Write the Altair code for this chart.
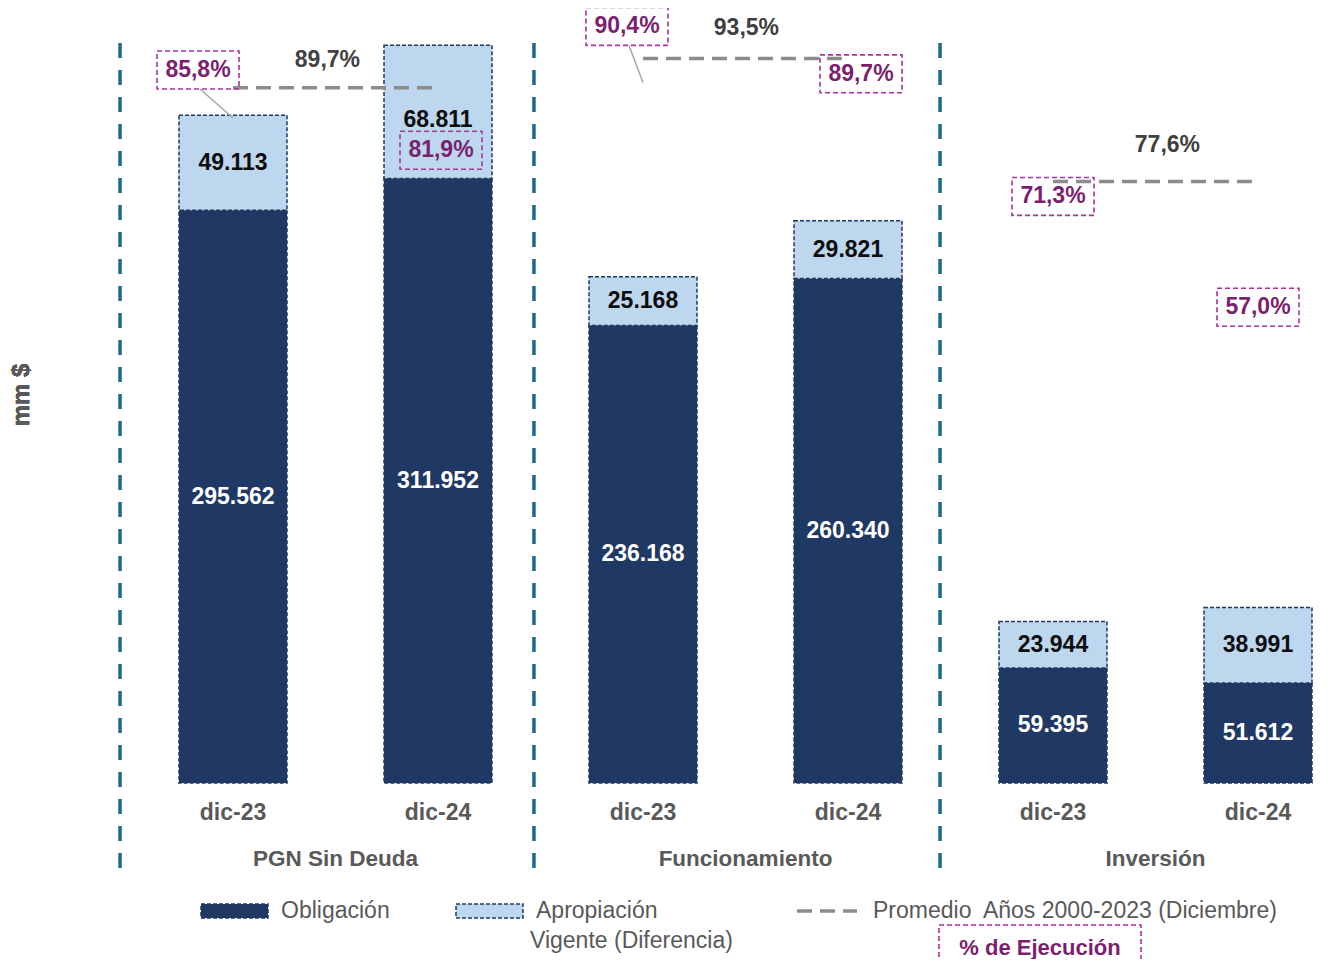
import altair as alt
import pandas as pd

# ---------------- data ----------------
groups = ["PGN Sin Deuda", "Funcionamiento", "Inversión"]
periods = ["dic-23", "dic-24"]
obligacion = [295562, 311952, 236168, 260340, 59395, 51612]
diferencia = [49113, 68811, 25168, 29821, 23944, 38991]
ejecucion = [85.8, 81.9, 90.4, 89.7, 71.3, 57.0]
promedio = [89.7, 93.5, 77.6]

# ---------------- layout (pixels) ----------------
PCT_LABEL_OFFSETS = [(-35, -48), (3, 2), (-16, -56), (13, -14), (0, -34), (0, -34)]
LEADER = [True, False, True, False, False, False]
DIF_LABEL_DY = [0, 8, 0, 0, 0, 0]
AVG_LABEL_OFFSETS = [(-5, -28), (4, -30), (15, -37)]
SEPARATORS = [-0.551, 1.468, 3.449]

W, H = 1322, 775
X_DOMAIN = [-225 / 205, (W - 225) / 205]
Y_MAX = 400000
PX_X = 205.0
PX_Y = H / Y_MAX
PCT_TO_Y = Y_MAX / 100.0

NAVY = "#203864"
LIGHT = "#BDD7EE"
MAGENTA_T = "#7B1F6F"
MAGENTA_B = "#A8349E"
GRAY_T = "#595959"
FONT = "Liberation Sans"


def fmt_num(v):
    return f"{v:,}".replace(",", ".")


def fmt_pct(p):
    return f"{p:.1f}".replace(".", ",") + "%"


rows = []
for i in range(6):
    g = groups[i // 2]
    p = periods[i % 2]
    o = obligacion[i]
    d = diferencia[i]
    e = ejecucion[i]
    dx, dy = PCT_LABEL_OFFSETS[i]
    lx = i + dx / PX_X
    ly = e * PCT_TO_Y - dy / PX_Y
    rows.append(dict(
        idx=i, grupo=g, periodo=p, obl=o, dif=d, total=o + d,
        obl_mid=o / 2, dif_mid=o + d / 2 - DIF_LABEL_DY[i] / PX_Y,
        obl_lab=fmt_num(o), dif_lab=fmt_num(d),
        pct=e, pct_y=e * PCT_TO_Y, pct_lab=fmt_pct(e),
        lx=lx, ly=ly, leader=LEADER[i],
        lead_x=lx + 2 / PX_X, lead_y=ly - 19 / PX_Y,
    ))
df = pd.DataFrame(rows)

avg_rows = []
for k, g in enumerate(groups):
    dx, dy = AVG_LABEL_OFFSETS[k]
    x0 = 2 * k
    avg_rows.append(dict(
        grupo=g, x0=x0, x1=x0 + 0.97, center=x0 + 0.5,
        y=promedio[k] * PCT_TO_Y, lab=fmt_pct(promedio[k]),
        tx=x0 + 0.485 + dx / PX_X, ty=promedio[k] * PCT_TO_Y - dy / PX_Y,
    ))
avg = pd.DataFrame(avg_rows)
sep = pd.DataFrame({"x": SEPARATORS})

xs = alt.Scale(domain=X_DOMAIN, nice=False, zero=False, padding=0)
ys = alt.Scale(domain=[0, Y_MAX], nice=False, zero=True, padding=0)


def X(field):
    return alt.X(field, type="quantitative", scale=xs, axis=None)


def Y(field):
    return alt.Y(field, type="quantitative", scale=ys, axis=None)


base = alt.Chart(df)

separators = alt.Chart(sep).mark_rule(
    color="#1B6A8A", strokeWidth=3.5, strokeDash=[15, 12]
).encode(x=X("x"), y=alt.value(35), y2=alt.value(863))

bars_obl = base.mark_bar(
    size=108, color=NAVY, stroke=NAVY, strokeWidth=1.5, strokeDash=[4, 2]
).encode(x=X("idx"), y=Y("obl"), y2=alt.value(H))

bars_dif = base.mark_bar(
    size=108, color=LIGHT, stroke=NAVY, strokeWidth=1.5, strokeDash=[4, 2]
).encode(x=X("idx"), y=Y("total"), y2=alt.Y2("obl"))

lab_obl = base.mark_text(
    font=FONT, fontSize=23, fontWeight="bold", color="white"
).encode(x=X("idx"), y=Y("obl_mid"), text="obl_lab:N")

lab_dif = base.mark_text(
    font=FONT, fontSize=23, fontWeight="bold", color="#0D0D0D"
).encode(x=X("idx"), y=Y("dif_mid"), text="dif_lab:N")

avg_lines = alt.Chart(avg).mark_rule(
    color="#8C8C8C", strokeWidth=3.5, strokeDash=[15, 8]
).encode(x=X("x0"), x2=alt.X2("x1"), y=Y("y"))

avg_labels = alt.Chart(avg).mark_text(
    font=FONT, fontSize=23, fontWeight="bold", color="#404040"
).encode(x=X("tx"), y=Y("ty"), text="lab:N")

leaders = base.transform_filter("datum.leader").mark_rule(
    color="#A6A6A6", strokeWidth=1.5
).encode(x=X("lead_x"), y=Y("lead_y"), x2=alt.X2("idx"), y2=alt.Y2("pct_y"))

BOX = "M-1,-0.4634L1,-0.4634L1,0.4634L-1,0.4634Z"
pct_boxes = base.mark_point(
    shape=BOX, size=82 * 82, filled=False, stroke=MAGENTA_B, strokeWidth=1.6,
    strokeDash=[5, 3], opacity=1
).encode(x=X("lx"), y=Y("ly"))

pct_labels = base.mark_text(
    font=FONT, fontSize=23, fontWeight="bold", color=MAGENTA_T
).encode(x=X("lx"), y=Y("ly"), text="pct_lab:N")

period_labels = base.mark_text(
    font=FONT, fontSize=23, fontWeight="bold", color=GRAY_T
).encode(x=X("idx"), y=alt.value(805), text="periodo:N")

group_labels = alt.Chart(avg).mark_text(
    font=FONT, fontSize=22.5, fontWeight="bold", color=GRAY_T
).encode(x=X("center"), y=alt.value(851), text="grupo:N")

ytitle = alt.Chart(df).mark_text(
    font=FONT, fontSize=24, fontWeight="bold", color=GRAY_T, angle=270
).encode(x=alt.value(14), y=alt.value(387), text=alt.value("mm $"))

# ---------------- legend ----------------
one = alt.Chart(pd.DataFrame({"k": [0]}))
leg_sw1 = one.mark_rect(color=NAVY, stroke=NAVY, strokeWidth=1.5, strokeDash=[4, 2]).encode(
    x=alt.value(193), x2=alt.value(260), y=alt.value(896), y2=alt.value(910))
leg_sw2 = one.mark_rect(color=LIGHT, stroke=NAVY, strokeWidth=1.5, strokeDash=[4, 2]).encode(
    x=alt.value(448), x2=alt.value(515), y=alt.value(896), y2=alt.value(910))
leg_dash = one.mark_rule(color="#8C8C8C", strokeWidth=3.5, strokeDash=[15, 8]).encode(
    x=alt.value(789), x2=alt.value(849), y=alt.value(903))
leg_box = one.mark_rect(filled=False, stroke=MAGENTA_B, strokeWidth=1.6, strokeDash=[5, 3]).encode(
    x=alt.value(931), x2=alt.value(1133), y=alt.value(917), y2=alt.value(975))


def leg_text(txt, x, y, **kw):
    props = dict(font=FONT, fontSize=23, color=GRAY_T, align="left", baseline="middle")
    props.update(kw)
    return one.mark_text(**props).encode(x=alt.value(x), y=alt.value(y), text=alt.value(txt))


legend = [
    leg_sw1, leg_sw2, leg_dash, leg_box,
    leg_text("Obligación", 273, 903),
    leg_text("Apropiación", 528, 903),
    leg_text("Vigente (Diferencia)", 522, 933),
    leg_text("Promedio\u00a0 Años 2000-2023 (Diciembre)", 865, 903),
    leg_text("% de Ejecución", 1032, 940, align="center", fontWeight="bold",
             fontSize=22, color=MAGENTA_T),
]

chart = alt.layer(
    separators, bars_obl, bars_dif, lab_obl, lab_dif, avg_lines, avg_labels,
    leaders, pct_boxes, pct_labels, period_labels, group_labels, ytitle, *legend
).properties(
    width=W, height=H,
    autosize=alt.AutoSizeParams(type="none"),
    padding={"left": 0, "top": 0, "right": 0, "bottom": 176},
    background="white",
).configure_view(stroke=None)

chart.save("out.html", embed_options={"renderer": "svg", "actions": False})
